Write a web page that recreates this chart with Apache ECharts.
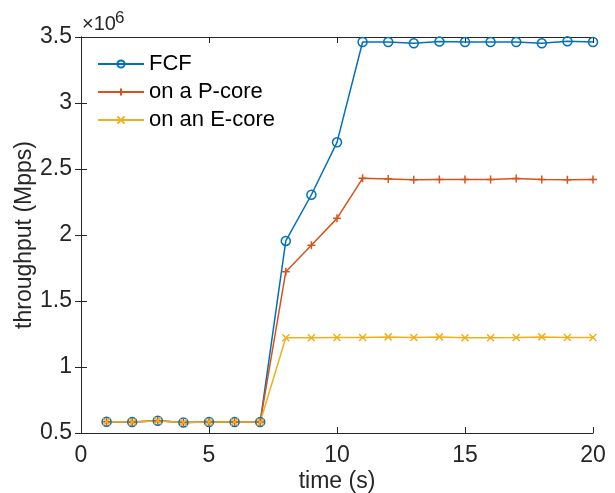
<!DOCTYPE html>
<html><head><meta charset="utf-8">
<script src="https://cdn.jsdelivr.net/npm/echarts@6/dist/echarts.min.js"></script>
<style>html,body{margin:0;padding:0;background:#fff}#c{width:615px;height:493px}</style>
</head><body><div id="c"></div>
<script>
const time = [1,2,3,4,5,6,7,8,9,10,11,12,13,14,15,16,17,18,19,20];
const fcf   = [0.585,0.583,0.593,0.580,0.583,0.583,0.583,1.955,2.305,2.702,3.462,3.462,3.452,3.465,3.462,3.462,3.462,3.452,3.467,3.462];
const pcore = [0.585,0.583,0.593,0.580,0.583,0.583,0.583,1.722,1.922,2.126,2.429,2.425,2.418,2.420,2.420,2.420,2.428,2.420,2.418,2.420];
const ecore = [0.585,0.583,0.593,0.580,0.583,0.583,0.583,1.222,1.222,1.224,1.224,1.228,1.224,1.228,1.222,1.222,1.224,1.228,1.224,1.224];
const names = ['FCF','on a P-core','on an E-core'];
const colors = ['#0072BD','#D95319','#EDB120'];
const multiplier = ['×10','6'];

const font = 'Arial, "Liberation Sans", sans-serif';
const txt = '#262626';
const plus = 'path://M0,-5L0,5M-5,0L5,0';
const cross = 'path://M-5,-5L5,5M-5,5L5,-5';
function pts(v){ return time.map((t,i)=>[t,v[i]]); }
function mk(name, v, color, sym, size){
  return {name, type:'line', data:pts(v), symbol:sym, symbolSize:size, showSymbol:true,
    lineStyle:{color, width:1.5}, itemStyle:{color: sym==='circle' ? 'rgba(0,0,0,0)' : color, borderColor:color, borderWidth:1.5},
    emphasis:{disabled:true}, animation:false, z: 3};
}
const chart = echarts.init(document.getElementById('c'));
const axLine = {show:true, lineStyle:{color:txt, width:1}};
const tick = {show:true, inside:true, length:6, lineStyle:{color:txt}};
chart.setOption({
  animation:false,
  grid:{left:81, right:22, top:37, bottom:60, containLabel:false, outerBoundsMode:'none'},
  graphic:[
    {type:'text', left:82, top:14, style:{text:multiplier[0], fontFamily:font, fontSize:20, fill:txt}},
    {type:'text', left:115, top:10, style:{text:multiplier[1], fontFamily:font, fontSize:17, fill:txt}}
  ],
  legend:{data:names, left:97, top:53, padding:0, orient:'vertical', itemWidth:46, itemHeight:9, itemGap:6,
    textStyle:{fontFamily:font, fontSize:22, color:'#000'}},
  xAxis:[{type:'value', min:0, max:20, interval:5, position:'bottom',
    name:'time (s)', nameLocation:'middle', nameGap:37, nameMoveOverlap:false, nameTextStyle:{fontFamily:font, fontSize:23, color:txt},
    axisLine:axLine, axisTick:tick,
    axisLabel:{fontFamily:font, fontSize:23, color:txt, margin:11}, splitLine:{show:false}},
    {type:'value', min:0, max:20, interval:5, position:'top', axisLine:axLine,
    axisTick:tick, axisLabel:{show:false}, splitLine:{show:false}}],
  yAxis:[{type:'value', min:0.5, max:3.5, interval:0.5, position:'left',
    name:'throughput (Mpps)', nameLocation:'middle', nameGap:45, nameMoveOverlap:false, nameTextStyle:{fontFamily:font, fontSize:23, color:txt},
    axisLine:axLine, axisTick:tick,
    axisLabel:{fontFamily:font, fontSize:23, color:txt, margin:9, formatter:v=>String(+v.toFixed(1))}, splitLine:{show:false}},
    {type:'value', min:0.5, max:3.5, interval:0.5, position:'right', axisLine:axLine,
    axisTick:tick, axisLabel:{show:false}, splitLine:{show:false}}],
  series:[mk(names[0], fcf, colors[0], 'circle', 9), mk(names[1], pcore, colors[1], plus, 8), mk(names[2], ecore, colors[2], cross, 7)]
});
</script></body></html>
